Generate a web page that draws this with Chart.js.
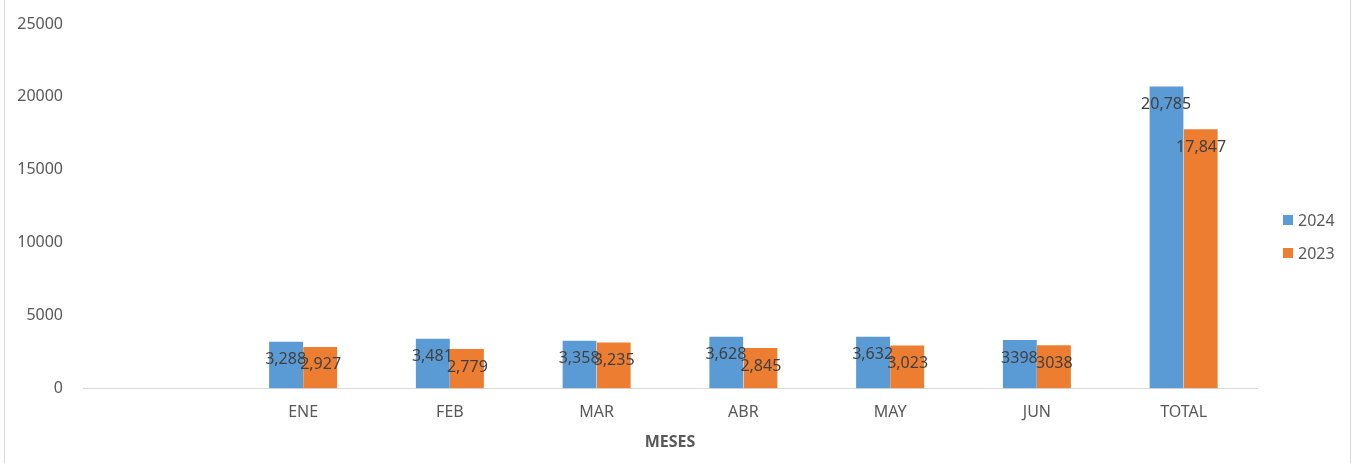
<!DOCTYPE html>
<html><head><meta charset="utf-8">
<script src="https://cdn.jsdelivr.net/npm/chart.js@4"></script>
<style>
html,body{margin:0;padding:0;background:#fff;}
#wrap{position:relative;width:1354px;height:463px;overflow:hidden;}
#frame{position:absolute;left:4px;top:-2px;width:1347px;height:470px;border-left:1px solid #d9d9d9;border-right:1px solid #d9d9d9;box-sizing:border-box;pointer-events:none;}
canvas{position:absolute;left:0;top:0;}
</style></head>
<body><div id="wrap"><canvas id="c" width="1354" height="463"></canvas><div id="frame"></div></div>
<script>
const categories = ["", "ENE", "FEB", "MAR", "ABR", "MAY", "JUN", "TOTAL"];
const values2024 = [null, 3288, 3481, 3358, 3628, 3632, 3398, 20785];
const values2023 = [null, 2927, 2779, 3235, 2845, 3023, 3038, 17847];
const labels2024 = ["", "3,288", "3,481", "3,358", "3,628", "3,632", "3398", "20,785"];
const labels2023 = ["", "2,927", "2,779", "3,235", "2,845", "3,023", "3038", "17,847"];
const yTicks = [0, 5000, 10000, 15000, 20000, 25000];
const seriesNames = ["2024", "2023"];
const seriesColors = ["#5b9bd5", "#ed7d31"];

const FONT = "'Noto Sans', 'Open Sans', sans-serif";

const labelPlugin = {
  id: 'barLabels',
  afterDatasetsDraw(chart) {
    const ctx = chart.ctx;
    const lists = [labels2024, labels2023];
    ctx.save();
    ctx.font = "16px " + FONT;
    ctx.fillStyle = "#404040";
    ctx.textAlign = "center";
    ctx.textBaseline = "middle";
    chart.data.datasets.forEach((ds, di) => {
      const meta = chart.getDatasetMeta(di);
      meta.data.forEach((bar, i) => {
        const t = lists[di][i];
        if (!t) return;
        ctx.fillText(t, bar.x, bar.y + 19);
      });
    });
    ctx.restore();
  }
};

const legendPlugin = {
  id: 'sideLegend',
  afterDraw(chart) {
    const ctx = chart.ctx;
    ctx.save();
    ctx.font = "16px " + FONT;
    ctx.textAlign = "left";
    ctx.textBaseline = "middle";
    const x0 = chart.chartArea.right + 26;
    const yMid = 236.5;
    chart.data.datasets.forEach((ds, i) => {
      const y = yMid + (i - 0.5) * 33;
      ctx.fillStyle = ds.backgroundColor;
      ctx.fillRect(x0, y - 5, 10, 10);
      ctx.fillStyle = "#595959";
      ctx.fillText(ds.label, x0 + 15, y + 1);
    });
    ctx.restore();
  }
};

new Chart(document.getElementById('c'), {
  type: 'bar',
  data: {
    labels: categories,
    datasets: [
      { label: seriesNames[0], data: values2024, backgroundColor: seriesColors[0], borderColor: '#ffffff', borderWidth: {left:1,right:0,top:1,bottom:0}, categoryPercentage: 0.477, barPercentage: 1 },
      { label: seriesNames[1], data: values2023, backgroundColor: seriesColors[1], borderColor: '#ffffff', borderWidth: {left:0,right:1,top:1,bottom:0}, categoryPercentage: 0.477, barPercentage: 1 }
    ]
  },
  options: {
    responsive: false,
    animation: false,
    layout: { padding: { left: 0, right: 97, top: 24, bottom: 11 } },
    plugins: {
      legend: { display: false },
      tooltip: { enabled: false }
    },
    scales: {
      x: {
        grid: { display: false, drawTicks: false },
        border: { display: true, color: '#d9d9d9', width: 1 },
        ticks: { color: '#595959', font: { size: 16, family: FONT }, padding: 14 },
        title: { display: true, text: 'MESES', color: '#595959', font: { size: 16, weight: 'bold', family: FONT }, padding: { top: -3, bottom: 0 } }
      },
      y: {
        min: 0, max: 25000,
        afterBuildTicks(axis) { axis.ticks = yTicks.map(v => ({ value: v })); },
        afterFit(axis) { axis.width = 83; axis.paddingTop = 0; axis.paddingBottom = 0; },
        grid: { display: false, drawTicks: false },
        border: { display: false },
        ticks: { color: '#595959', font: { size: 16, family: FONT }, padding: 20, callback: v => String(v) }
      }
    }
  },
  plugins: [labelPlugin, legendPlugin]
});
</script>
</body></html>
